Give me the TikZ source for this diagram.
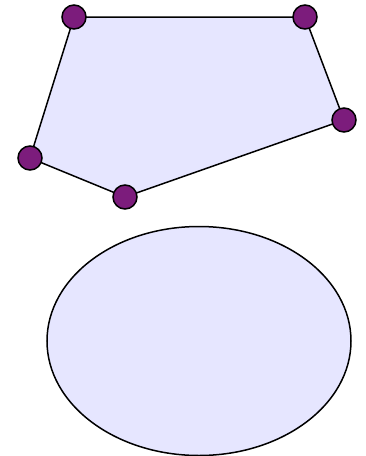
\documentclass[tikz,border=0pt]{standalone}
\usepackage{tikz}
\usetikzlibrary{shapes.geometric}
\definecolor{lavfill}{RGB}{230,230,255}
\definecolor{dotpurple}{RGB}{124,28,124}

\begin{document}
\begin{tikzpicture}[x=1pt,y=-1pt,
  vertex/.style={circle,draw=black,line width=1.5pt,fill=dotpurple,minimum size=24pt,inner sep=0pt},
  edge/.style={draw=black,line width=1.5pt}]
  \useasboundingbox (0,0) rectangle (366,456);
  % Polygon corners
  \coordinate (p1) at (74,17);
  \coordinate (p2) at (305,17);
  \coordinate (p3) at (344,120);
  \coordinate (p4) at (125,197);
  \coordinate (p5) at (30,158);
  % Filled polygon
  \filldraw[fill=lavfill,edge] (p1) -- (p2) -- (p3) -- (p4) -- (p5) -- cycle;
  \foreach \p in {p1,p2,p3,p4,p5}{
    \node[vertex] (dot-\p) at (\p) {};
  }
  % Ellipse
  \node[ellipse,draw=black,line width=1.5pt,fill=lavfill,minimum width=304pt,minimum height=229pt,inner sep=0pt] (oval) at (199,341) {};
\end{tikzpicture}
\end{document}
